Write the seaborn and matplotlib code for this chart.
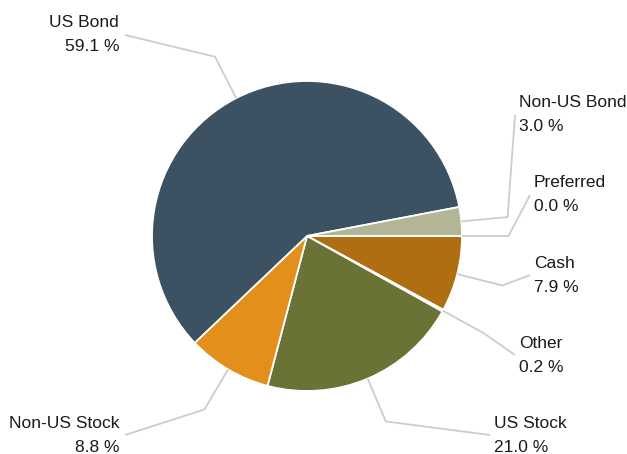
import numpy as np
import matplotlib
matplotlib.use("Agg")
import matplotlib.pyplot as plt
import seaborn as sns

sns.set_theme(style="white")
plt.rcParams["font.family"] = ["Liberation Sans", "DejaVu Sans"]

# Allocation, listed clockwise starting at 3 o'clock
categories = ["Preferred", "Cash", "Other", "US Stock", "Non-US Stock", "US Bond", "Non-US Bond"]
shares = [0.0, 7.9, 0.2, 21.0, 8.8, 59.1, 3.0]
colors = ["#b2b697", "#b06e12", "#e6e6e6", "#6a7335", "#e38f1b", "#3c5162", "#b2b697"]

# Where each label's leader line ends (pie radius = 1) and which side the text sits on
label_ends = {
    "US Bond": (-1.174, 1.297, "right"),
    "Non-US Bond": (1.342, 0.781, "left"),
    "Preferred": (1.439, 0.265, "left"),
    "Cash": (1.439, -0.252, "left"),
    "Other": (1.342, -0.768, "left"),
    "US Stock": (1.181, -1.284, "left"),
    "Non-US Stock": (-1.174, -1.284, "right"),
}

W, H, DPI = 627, 454, 100
R_PX = 155.0
CX, CY = 307.0, 236.0

fig = plt.figure(figsize=(W / DPI, H / DPI), dpi=DPI)
ax = fig.add_axes([0, 0, 1, 1])

wedges, _ = ax.pie(
    shares,
    colors=colors,
    startangle=0,
    counterclock=False,
    radius=1.0,
    wedgeprops=dict(edgecolor="white", linewidth=1.3),
)

ax.set_xlim(-CX / R_PX, (W - CX) / R_PX)
ax.set_ylim(-(H - CY) / R_PX, CY / R_PX)
ax.set_aspect("equal")
ax.axis("off")

px = 1.0 / R_PX
for w, name, val in zip(wedges, categories, shares):
    mid = np.deg2rad((w.theta1 + w.theta2) / 2.0)
    start = (np.cos(mid), np.sin(mid))
    elbow = (1.3 * np.cos(mid), 1.3 * np.sin(mid))
    ex, ey, side = label_ends[name]
    ax.plot([start[0], elbow[0], ex], [start[1], elbow[1], ey],
            color="#cccccc", lw=1.3, solid_capstyle="butt", zorder=1)
    if side == "left":
        tx, ha = ex + 4 * px, "left"
    else:
        tx, ha = ex - 6 * px, "right"
    ax.text(tx, ey, f"{name}\n{val:.1f} %", ha=ha, va="center", multialignment=ha,
            fontsize=12.5, color="#1a1a1a", linespacing=1.75)

fig.savefig("out.png", dpi=DPI)
